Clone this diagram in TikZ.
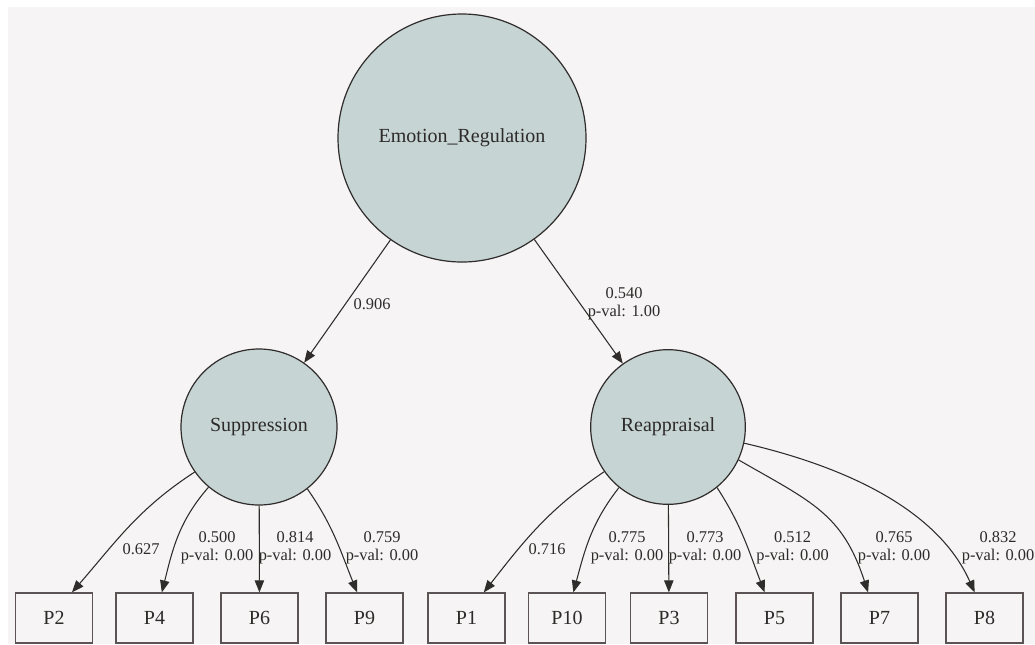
\documentclass[tikz,border=0pt]{standalone}
\usepackage{fontspec}
\setmainfont{Liberation Serif}
\usetikzlibrary{arrows.meta}
\definecolor{bgc}{RGB}{246,244,244}
\definecolor{latentfill}{RGB}{198,212,211}
\definecolor{edgec}{RGB}{48,44,44}
\definecolor{boxc}{RGB}{92,84,84}
\definecolor{txtc}{RGB}{45,42,42}
\begin{document}
\begin{tikzpicture}[x=0.75pt,y=0.75pt,
  latent/.style={circle,draw=edgec,line width=0.9pt,fill=latentfill,inner sep=0pt,text=txtc,font=\fontsize{15}{18}\selectfont},
  obs/.style={rectangle,draw=boxc,line width=0.9pt,minimum width=57.75pt,minimum height=37.5pt,inner sep=0pt,text=txtc,font=\fontsize{15}{18}\selectfont},
  loading/.style={draw=edgec,line width=0.8pt,-{Triangle[length=9pt,width=7pt]}},
  lbl/.style={text=txtc,font=\fontsize{12.3}{13.5}\selectfont,align=center,inner sep=0pt}]
\fill[white] (0,0) rectangle (1035,-644);
\fill[bgc] (8,-7) rectangle (1035,-644);
\useasboundingbox (0,0) rectangle (1035,-644);

\node[latent,minimum size=186pt] (ER) at (462,-138) {Emotion\_Regulation};
\node[latent,minimum size=117pt] (SUP) at (259,-427) {Suppression};
\node[latent,minimum size=116pt] (REA) at (668,-427) {Reappraisal};

\node[obs] (P2) at (54,-618) {P2};
\node[obs] (P4) at (154.5,-618) {P4};
\node[obs] (P6) at (259.5,-618) {P6};
\node[obs] (P9) at (364.5,-618) {P9};
\node[obs] (P1) at (466.5,-618) {P1};
\node[obs] (P10) at (567,-618) {P10};
\node[obs] (P3) at (669,-618) {P3};
\node[obs] (P5) at (774.5,-618) {P5};
\node[obs] (P7) at (879.5,-618) {P7};
\node[obs] (P8) at (984.5,-618) {P8};

\draw[loading] (ER) -- (SUP);
\draw[loading] (ER) -- (REA);

\draw[loading] (SUP.215) to[out=213,in=49] (P2.55);
\draw[loading] (SUP.230) to[out=229,in=76] (P4.74);
\draw[loading] (SUP) -- (P6);
\draw[loading] (SUP.308) to[out=305,in=112] (P9.106);

\draw[loading] (REA.215) to[out=214,in=52] (P1.56);
\draw[loading] (REA.231) to[out=232,in=75] (P10.76);
\draw[loading] (REA) -- (P3);
\draw[loading] (REA.309) to[out=303,in=111] (P5.111);
\draw[loading] (REA.335) to[out=330,in=108,looseness=1.15] (P7.114);
\draw[loading] (REA.348) .. controls +(347:95) and +(114:95) .. (P8.111);

\node[lbl] (l906) at (372,-304) {0.906};
\node[lbl] (l540) at (624,-304) {0.540\\p-val: 1.00};
\node[lbl] (l627) at (141,-549) {0.627};
\node[lbl] (l500) at (217,-548) {0.500\\p-val: 0.00};
\node[lbl] (l814) at (295,-548) {0.814\\p-val: 0.00};
\node[lbl] (l759) at (382,-548) {0.759\\p-val: 0.00};
\node[lbl] (l716) at (547,-549) {0.716};
\node[lbl] (l775) at (627,-548) {0.775\\p-val: 0.00};
\node[lbl] (l773) at (705,-548) {0.773\\p-val: 0.00};
\node[lbl] (l512) at (792.5,-548) {0.512\\p-val: 0.00};
\node[lbl] (l765) at (894,-548) {0.765\\p-val: 0.00};
\node[lbl] (l832) at (998,-548) {0.832\\p-val: 0.00};
\end{tikzpicture}
\end{document}
